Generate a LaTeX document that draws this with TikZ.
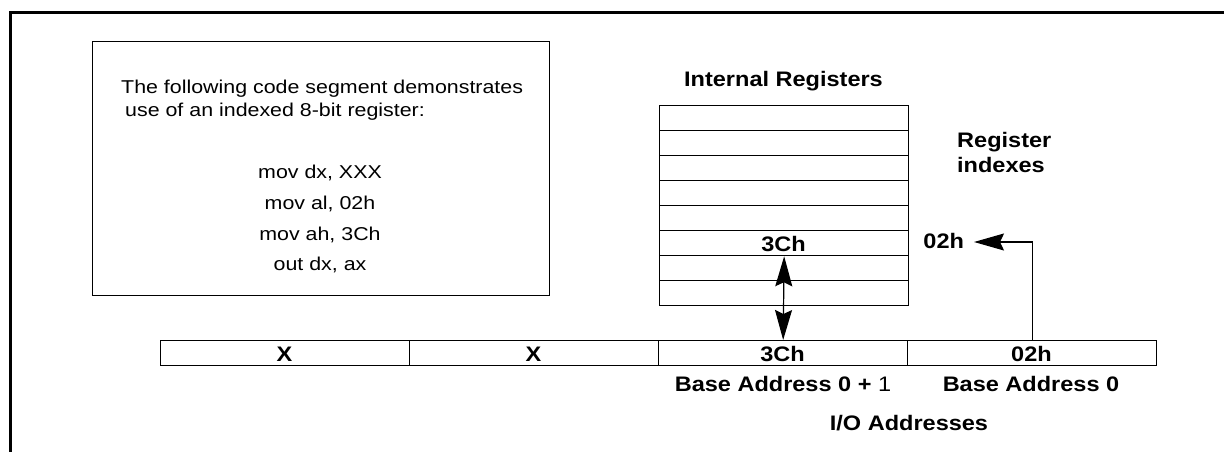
\documentclass[tikz,border=0pt]{standalone}
\usepackage{fontspec}
\usepackage{graphicx}
\setmainfont{Liberation Sans}
\usetikzlibrary{arrows.meta}
\newcommand{\wideR}[1]{\scalebox{1.15}[1]{#1}}
\newcommand{\wideB}[1]{\scalebox{1.12}[1]{#1}}
\begin{document}
\begin{tikzpicture}[x=1pt,y=-1pt,
  >={Stealth[length=30pt,width=17pt,inset=4pt]},
  frameline/.style={line width=3pt},
  codebox/.style={draw, line width=1.3pt, anchor=north west, inner sep=0pt},
  regcell/.style={draw, line width=1.3pt, minimum width=249pt, minimum height=25pt, inner sep=0pt, anchor=north west},
  rtxt/.style={font=\fontsize{18.6}{22}\selectfont, inner sep=0pt},
  btxt/.style={font=\fontsize{21}{25}\selectfont\bfseries, inner sep=0pt},
  conn/.style={line width=1.2pt},
]
\useasboundingbox (0,0) rectangle (1224,452);
% outer frame
\draw[frameline] (10,452) -- (10,13) -- (1224,13);
% code box
\node[codebox, minimum width=457pt, minimum height=254pt] (code) at (92,41) {};
\node[rtxt, anchor=base west] (t1) at (121,94) {\wideR{The following code segment demonstrates}};
\node[rtxt, anchor=base west] (t2) at (125,117) {\wideR{use of an indexed 8-bit register:}};
\node[rtxt, anchor=base] (c1) at (320,178) {\wideR{mov dx, XXX}};
\node[rtxt, anchor=base] (c2) at (320,209) {\wideR{mov al, 02h}};
\node[rtxt, anchor=base] (c3) at (320,240) {\wideR{mov ah, 3Ch}};
\node[rtxt, anchor=base] (c4) at (320,270) {\wideR{out dx, ax}};
% internal registers
\node[btxt, anchor=base] (title) at (783.5,87) {\wideB{Internal Registers}};
\node[regcell] (r1) at (659,105) {};
\node[regcell] (r2) at (659,130) {};
\node[regcell] (r3) at (659,155) {};
\node[regcell] (r4) at (659,180) {};
\node[regcell] (r5) at (659,205) {};
\node[regcell] (r6) at (659,230) {};
\node[regcell] (r7) at (659,255) {};
\node[regcell] (r8) at (659,280) {};
\node[btxt, anchor=base] (r6t) at (783.5,251) {\wideB{3Ch}};
% register indexes
\node[btxt, anchor=base west] (ri1) at (957,147) {\wideB{Register}};
\node[btxt, anchor=base west] (ri2) at (957,172) {\wideB{indexes}};
\node[btxt, anchor=base east, outer sep=0pt] (idx) at (964,248) {\wideB{02h}};
\coordinate (idxtip) at (974,242);
% I/O address bar
\node[regcell] (a1) at (160,340) {};
\node[regcell] (a2) at (409,340) {};
\node[regcell] (a3) at (658,340) {};
\node[regcell] (a4) at (907,340) {};
\node[btxt, anchor=base] (a1t) at (284.5,361) {\wideB{X}};
\node[btxt, anchor=base] (a2t) at (533.5,361) {\wideB{X}};
\node[btxt, anchor=base] (a3t) at (782.5,361) {\wideB{3Ch}};
\node[btxt, anchor=base] (a4t) at (1031.5,361) {\wideB{02h}};
\node[btxt, anchor=base] (ba1) at (783,391) {\wideB{Base Address 0 + \textmd{1}}};
\node[btxt, anchor=base] (ba0) at (1031,391) {\wideB{Base Address 0}};
\node[btxt, anchor=base] (io) at (909,430) {\wideB{I/O Addresses}};
% connectors
\draw[conn, <->] (r6.south) -- (a3.north);
\draw[conn, ->] (a4.north) |- (idxtip);
\end{tikzpicture}
\end{document}
